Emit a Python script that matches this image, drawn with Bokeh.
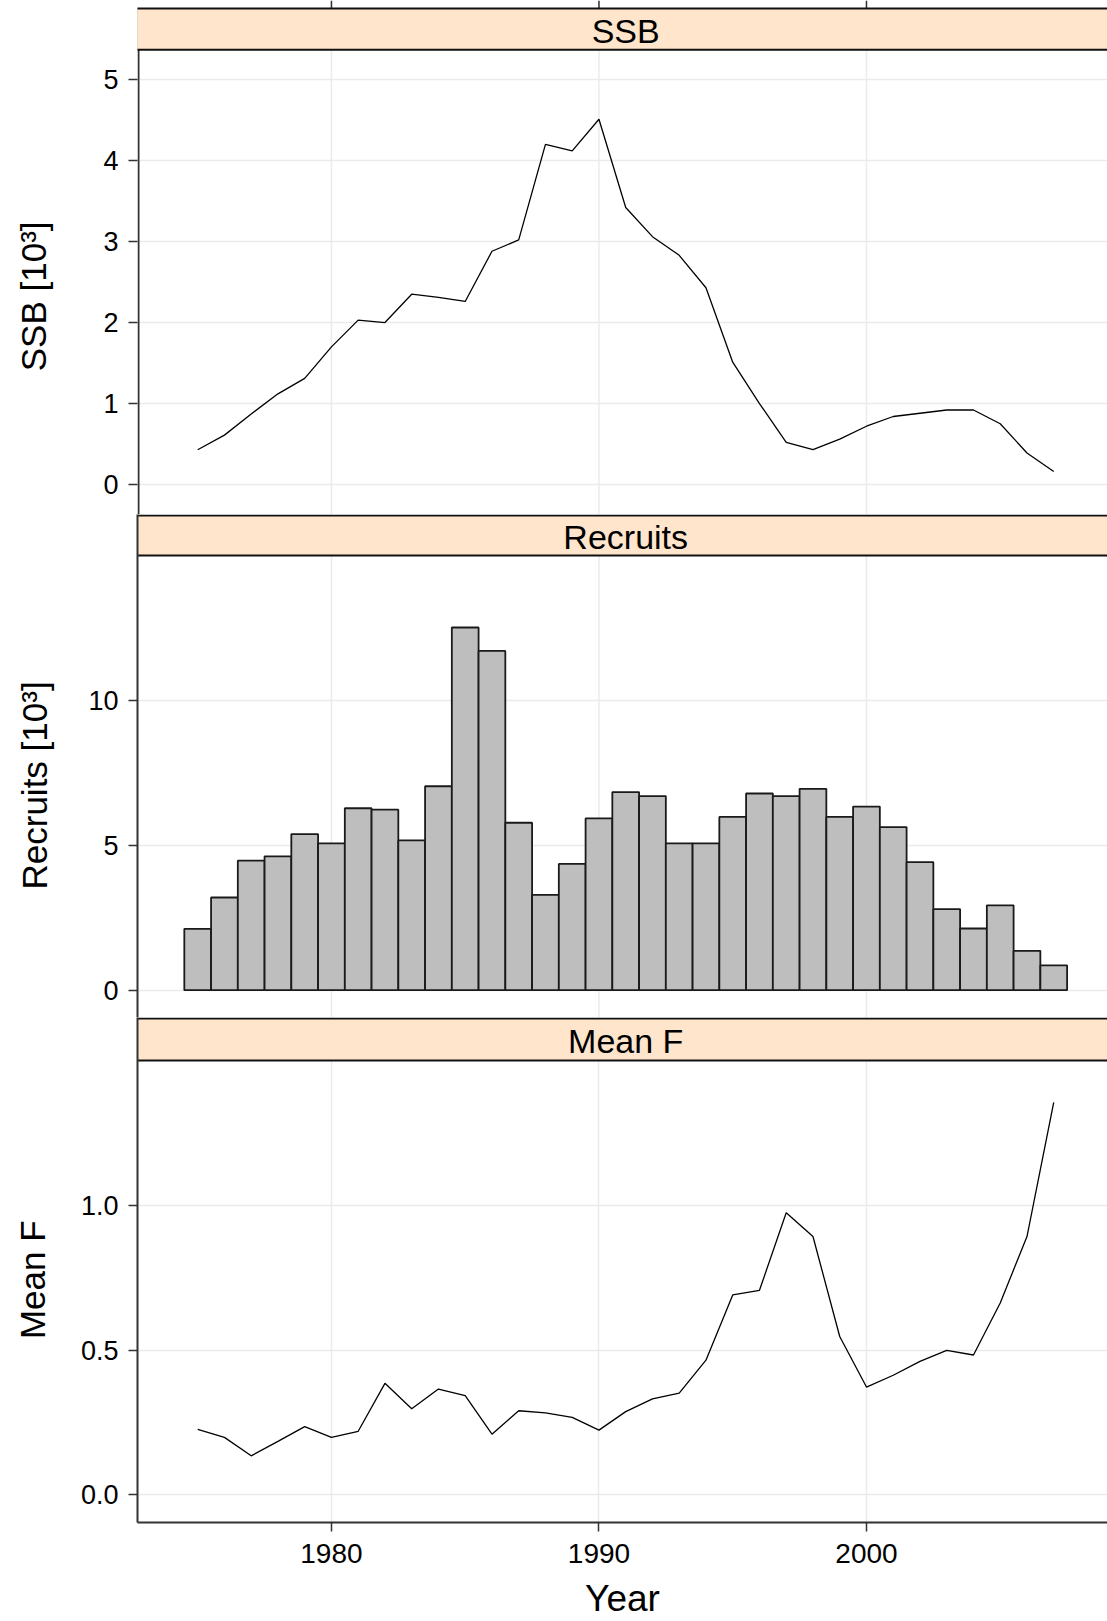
from bokeh.plotting import figure
from bokeh.layouts import column
from bokeh.models import Range1d, FixedTicker, NumeralTickFormatter, Span
from bokeh.core.properties import value
from bokeh.embed import file_html
from bokeh.resources import INLINE

# ---------------- data ----------------
years = list(range(1975, 2008))
ssb = [0.43, 0.61, 0.87, 1.12, 1.31, 1.70, 2.03, 2.00, 2.35, 2.31, 2.26, 2.88, 3.02,
       4.20, 4.12, 4.51, 3.42, 3.06, 2.83, 2.43, 1.51, 1.00, 0.52, 0.43, 0.56, 0.72,
       0.84, 0.88, 0.92, 0.92, 0.75, 0.39, 0.16]
recruits = [2.12, 3.20, 4.47, 4.62, 5.39, 5.07, 6.28, 6.23, 5.17, 7.04, 12.52, 11.71,
            5.78, 3.29, 4.36, 5.93, 6.84, 6.70, 5.07, 5.07, 5.98, 6.79, 6.70, 6.95,
            5.98, 6.34, 5.63, 4.42, 2.80, 2.13, 2.93, 1.36, 0.86]
meanf = [0.226, 0.198, 0.134, 0.184, 0.235, 0.198, 0.219, 0.385, 0.297, 0.365, 0.342,
         0.209, 0.290, 0.283, 0.267, 0.223, 0.287, 0.331, 0.351, 0.465, 0.691, 0.707,
         0.975, 0.893, 0.547, 0.372, 0.413, 0.461, 0.499, 0.483, 0.663, 0.893, 1.357]

panel_titles = ["SSB", "Recruits", "Mean F"]
y_labels = ["SSB [10³]", "Recruits [10³]", "Mean F"]
x_ticks = [1980, 1990, 2000]
y_ticks = [[0, 1, 2, 3, 4, 5], [0, 5, 10], [0.0, 0.5, 1.0]]
x_label = "Year"

# ---------------- styling / layout ----------------
FONT = "Liberation Sans"
STRIP_FILL = "#FFE5CC"
GRID = "#EBEBEB"
BORDER = "#333333"
NBSP = "\u00a0"

W = 1107
LEFT = 137
x_range = Range1d(1972.75, 2009.01)
XUNIT = (x_range.end - x_range.start) / (W - LEFT)

# (height, y_start, y_end, strip_bottom, strip_top, label_standoff, label_pad, bottom_border)
specs = [
    (514, -0.370, 5.976, 5.367, 5.877, 47, 8, 0),
    (503, -0.942, 16.42, 15.005, None, 31, 4, 0),
    (604, -0.0967, 1.651, 1.502, None, 26, 2, 98),
]


def style_ticks(ax):
    ax.major_tick_out = 9
    ax.major_tick_in = 0
    ax.minor_tick_line_color = None
    ax.major_tick_line_color = BORDER
    ax.major_tick_line_width = 1.5
    ax.axis_line_color = BORDER
    ax.axis_line_width = 2


def make_panel(i):
    h, y0, y1, sb, st_top, std, pad, bb = specs[i]
    last = (i == 2)
    p = figure(width=W, height=h, x_range=x_range, y_range=Range1d(y0, y1),
               x_axis_location="below" if last else None,
               toolbar_location=None, output_backend="svg",
               min_border_left=LEFT, min_border_right=0, min_border_top=0,
               min_border_bottom=bb)
    p.outline_line_color = None
    p.background_fill_color = "white"
    p.border_fill_color = "white"
    unit = (y1 - y0) / (h - bb)
    if st_top is None:
        st_top = y1 - 1.0 * unit

    # grids
    p.ygrid.ticker = FixedTicker(ticks=y_ticks[i])
    p.ygrid.grid_line_color = GRID
    p.ygrid.grid_line_width = 1.5
    if last:
        p.xgrid.ticker = FixedTicker(ticks=x_ticks)
        p.xgrid.grid_line_color = GRID
        p.xgrid.grid_line_width = 1.5
    else:
        p.xgrid.grid_line_color = None
        for t in x_ticks:
            p.add_layout(Span(location=t, dimension="height", line_color=GRID,
                              line_width=1.5, level="underlay"))

    # y axis
    ya = p.yaxis[0]
    ya.ticker = FixedTicker(ticks=y_ticks[i])
    if i == 2:
        ya.formatter = NumeralTickFormatter(format="0.0")
    ya.axis_label = y_labels[i] + NBSP * pad   # padding shifts the centred title downwards
    ya.axis_label_text_font = FONT
    ya.axis_label_text_font_size = "35px"
    ya.axis_label_text_font_style = "normal"
    ya.axis_label_text_color = "black"
    ya.axis_label_standoff = std
    ya.major_label_text_font = FONT
    ya.major_label_text_font_size = "27px"
    ya.major_label_text_color = "black"
    ya.major_label_standoff = 10
    style_ticks(ya)

    if i == 0:
        # ticks above the first panel; left border only from the strip down
        ya.axis_line_color = None
        p.segment(x0=[x_range.start + XUNIT], y0=[y0], x1=[x_range.start + XUNIT],
                  y1=[st_top], line_color=BORDER, line_width=2)
        p.segment(x0=x_ticks, y0=[st_top] * len(x_ticks), x1=x_ticks,
                  y1=[y1] * len(x_ticks), line_color=BORDER, line_width=1.5)

    if last:
        xa = p.xaxis[0]
        xa.ticker = FixedTicker(ticks=x_ticks)
        xa.axis_label = x_label
        xa.axis_label_text_font = FONT
        xa.axis_label_text_font_size = "37px"
        xa.axis_label_text_font_style = "normal"
        xa.axis_label_text_color = "black"
        xa.axis_label_standoff = 12
        xa.major_label_text_font = FONT
        xa.major_label_text_font_size = "28px"
        xa.major_label_text_color = "black"
        xa.major_label_standoff = 12
        style_ticks(xa)

    # strip
    p.quad(left=[x_range.start - 10], right=[x_range.end + 10],
           bottom=[sb], top=[st_top], fill_color=STRIP_FILL,
           line_color="#111111", line_width=2)
    p.text(x=[(years[0] + years[-1]) / 2], y=[(sb + st_top) / 2 - 1.5 * unit],
           text=[panel_titles[i]], text_font=value(FONT),
           text_font_size="34px", text_align="center", text_baseline="middle",
           text_color="black")
    return p


p1 = make_panel(0)
p1.line(years, ssb, line_color="black", line_width=1.3)

p2 = make_panel(1)
p2.vbar(x=years, top=recruits, bottom=0, width=1.0, fill_color="#BEBEBE",
        line_color="#1A1A1A", line_width=1.8)

p3 = make_panel(2)
p3.line(years, meanf, line_color="black", line_width=1.3)

layout = column(p1, p2, p3, spacing=0)
open("out.html", "w").write(file_html(layout, INLINE))
